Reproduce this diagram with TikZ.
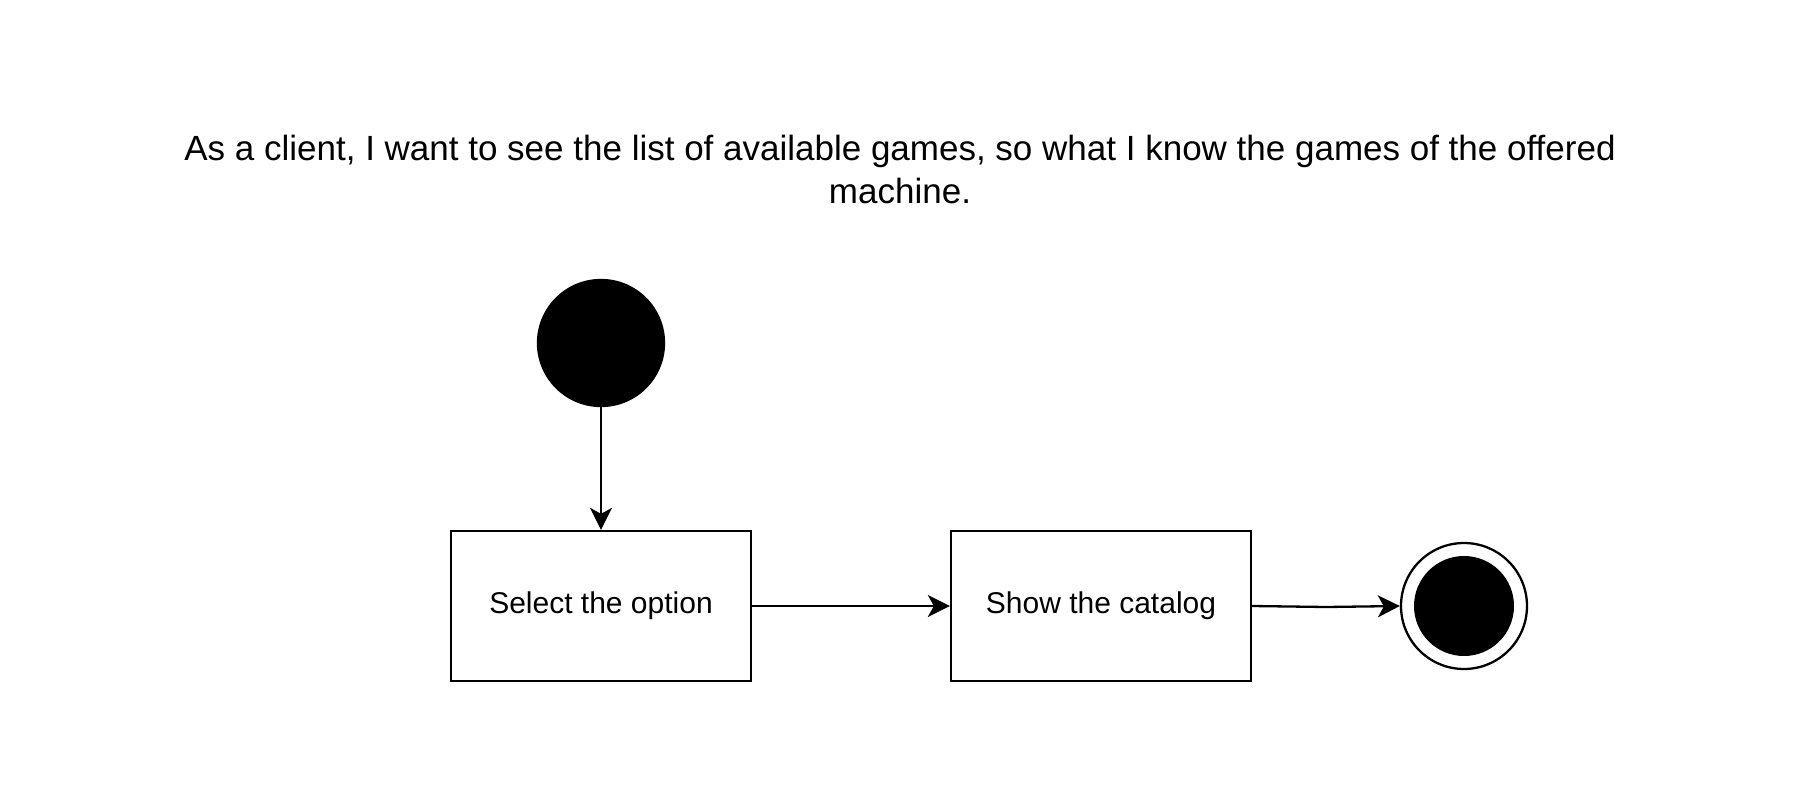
\documentclass[tikz,border=0pt]{standalone}
\usepackage{fontspec}
\setmainfont{Liberation Sans}
\usetikzlibrary{arrows.meta}
\begin{document}
\begin{tikzpicture}[x=1pt,y=-1pt,
  line width=2.3pt,
  actbox/.style={draw,rectangle,minimum width=300pt,minimum height=150pt,inner sep=0pt,font=\fontsize{30}{36}\selectfont},
  startdot/.style={circle,fill=black,draw=black,minimum size=126pt,inner sep=0pt},
  endring/.style={circle,draw=black,minimum size=126pt,inner sep=0pt},
  enddot/.style={circle,fill=black,minimum size=100pt,inner sep=0pt},
  flow/.style={-{Stealth[length=22pt,width=22pt,inset=6pt]}},
  title/.style={align=center,font=\fontsize{35}{43}\selectfont}]
\useasboundingbox (0,0) rectangle (1800,808);
\node[title] (t) at (900,169) {As a client, I want to see the list of available games, so what I know the games of the offered\\machine.};
\node[startdot] (s) at (601,343) {};
\node[actbox] (a) at (601,606) {\raisebox{-2pt}{Select the option}};
\node[actbox] (b) at (1101,606) {\raisebox{-2pt}{Show the catalog}};
\node[endring] (e) at (1464,606) {};
\node[enddot] (ei) at (1464,606) {};
\coordinate (m) at (1326,607);
\draw[flow] (s) -- (a);
\draw[flow] (a) -- (b);
\draw[flow] (b.east) -- (m) -- (e.west);
\end{tikzpicture}
\end{document}
